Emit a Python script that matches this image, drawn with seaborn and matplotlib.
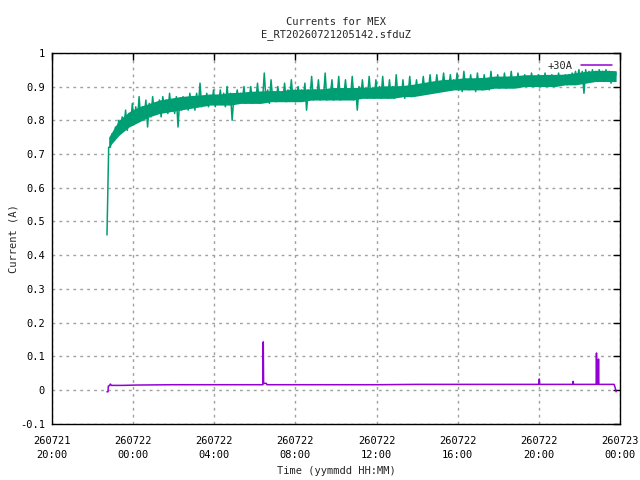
import matplotlib
matplotlib.use("Agg")
import matplotlib.pyplot as plt
import matplotlib.dates as mdates
import pandas as pd
import seaborn as sns

# green trace: low / high excursions of the noisy signal, one pair every 10 min
green_start = "2026-07-21 22:43"
green_lo = [
    0.46, 0.72, 0.74, 0.76, 0.77, 0.78, 0.77, 0.79, 0.79, 0.80,
    0.80, 0.81, 0.78, 0.81, 0.82, 0.82, 0.81, 0.83, 0.82, 0.83,
    0.82, 0.78, 0.83, 0.84, 0.83, 0.84, 0.83, 0.84, 0.84, 0.85,
    0.84, 0.85, 0.84, 0.85, 0.85, 0.84, 0.85, 0.80, 0.85, 0.85,
    0.86, 0.85, 0.86, 0.85, 0.86, 0.85, 0.86, 0.86, 0.85, 0.86,
    0.855, 0.86, 0.86, 0.855, 0.86, 0.86, 0.86, 0.865, 0.86, 0.83,
    0.865, 0.86, 0.865, 0.86, 0.865, 0.86, 0.865, 0.86, 0.865, 0.86,
    0.87, 0.865, 0.87, 0.86, 0.83, 0.865, 0.87, 0.865, 0.87, 0.865,
    0.87, 0.865, 0.87, 0.865, 0.87, 0.865, 0.87, 0.87, 0.865, 0.875,
    0.87, 0.875, 0.875, 0.88, 0.88, 0.885, 0.885, 0.89, 0.89, 0.895,
    0.895, 0.895, 0.89, 0.895, 0.89, 0.885, 0.895, 0.89, 0.895, 0.885,
    0.895, 0.89, 0.895, 0.89, 0.895, 0.90, 0.895, 0.90, 0.895, 0.90,
    0.90, 0.905, 0.90, 0.905, 0.905, 0.905, 0.905, 0.905, 0.905, 0.905,
    0.905, 0.91, 0.905, 0.91, 0.905, 0.91, 0.905, 0.91, 0.915, 0.92,
    0.915, 0.88, 0.92, 0.915, 0.92, 0.915, 0.92, 0.915, 0.92, 0.91,
    0.915,
]
green_hi = [
    0.72, 0.76, 0.78, 0.80, 0.81, 0.83, 0.82, 0.85, 0.84, 0.87,
    0.84, 0.86, 0.85, 0.87, 0.85, 0.86, 0.87, 0.86, 0.88, 0.86,
    0.87, 0.86, 0.87, 0.86, 0.88, 0.87, 0.88, 0.91, 0.87, 0.88,
    0.87, 0.89, 0.87, 0.89, 0.88, 0.90, 0.88, 0.87, 0.89, 0.88,
    0.90, 0.88, 0.90, 0.88, 0.91, 0.88, 0.94, 0.89, 0.92, 0.88,
    0.90, 0.88, 0.91, 0.89, 0.92, 0.88, 0.90, 0.89, 0.91, 0.89,
    0.93, 0.89, 0.92, 0.89, 0.94, 0.89, 0.92, 0.89, 0.93, 0.89,
    0.92, 0.89, 0.93, 0.89, 0.90, 0.92, 0.89, 0.93, 0.895, 0.92,
    0.90, 0.93, 0.895, 0.92, 0.90, 0.935, 0.895, 0.92, 0.90, 0.93,
    0.90, 0.92, 0.905, 0.93, 0.905, 0.935, 0.91, 0.935, 0.915, 0.94,
    0.915, 0.935, 0.92, 0.94, 0.92, 0.945, 0.92, 0.935, 0.92, 0.94,
    0.92, 0.935, 0.92, 0.945, 0.92, 0.935, 0.925, 0.94, 0.925, 0.945,
    0.925, 0.94, 0.925, 0.935, 0.93, 0.94, 0.93, 0.935, 0.93, 0.94,
    0.93, 0.935, 0.93, 0.94, 0.93, 0.935, 0.935, 0.94, 0.945, 0.95,
    0.945, 0.95, 0.945, 0.95, 0.945, 0.95, 0.945, 0.95, 0.945, 0.94,
    0.94,
]

# solid core of the green band, every 30 min
core_start = "2026-07-21 22:48"
core_lo = [
    0.72, 0.755, 0.78, 0.795, 0.81, 0.82, 0.825, 0.83, 0.835, 0.84,
    0.845, 0.845, 0.845, 0.85, 0.85, 0.85, 0.855, 0.855, 0.855, 0.855,
    0.86, 0.86, 0.86, 0.86, 0.86, 0.865, 0.865, 0.865, 0.865, 0.87,
    0.87, 0.875, 0.88, 0.885, 0.89, 0.89, 0.89, 0.89, 0.895, 0.895,
    0.895, 0.90, 0.90, 0.90, 0.90, 0.905, 0.905, 0.91, 0.915, 0.915,
    0.915,
]
core_hi = [
    0.75, 0.80, 0.825, 0.84, 0.85, 0.86, 0.865, 0.87, 0.873, 0.875,
    0.878, 0.878, 0.882, 0.883, 0.886, 0.887, 0.888, 0.888, 0.892, 0.892,
    0.893, 0.893, 0.897, 0.897, 0.897, 0.898, 0.898, 0.902, 0.902, 0.903,
    0.907, 0.912, 0.917, 0.921, 0.922, 0.926, 0.926, 0.927, 0.931, 0.931,
    0.932, 0.935, 0.935, 0.936, 0.936, 0.937, 0.941, 0.945, 0.948, 0.948,
    0.947,
]

# purple trace (+30A)
purple_times = [
    "07-21 22:43", "07-21 22:46", "07-21 22:47", "07-21 22:50", "07-21 22:53",
    "07-21 22:56", "07-21 23:30", "07-22 00:10", "07-22 02:00", "07-22 04:00",
    "07-22 06:24", "07-22 06:25", "07-22 06:26", "07-22 06:34", "07-22 06:36",
    "07-22 12:00", "07-22 14:00", "07-22 20:00", "07-22 20:01", "07-22 20:02",
    "07-22 21:40", "07-22 21:41", "07-22 21:42", "07-22 22:49", "07-22 22:50",
    "07-22 22:51", "07-22 22:55", "07-22 22:56", "07-22 22:57", "07-22 23:42",
    "07-22 23:45", "07-22 23:48",
]
purple_vals = [
    -0.005, -0.005, 0.012, 0.013, 0.018,
    0.014, 0.014, 0.015, 0.016, 0.016,
    0.016, 0.143, 0.020, 0.020, 0.016,
    0.016, 0.017, 0.017, 0.033, 0.017,
    0.017, 0.026, 0.017, 0.017, 0.110,
    0.017, 0.017, 0.092, 0.017, 0.017,
    0.008, -0.005,
]

xtick_times = pd.date_range("2026-07-21 20:00", "2026-07-23 00:00", freq="4h")
ytick_vals = [-0.1, 0, 0.1, 0.2, 0.3, 0.4, 0.5, 0.6, 0.7, 0.8, 0.9, 1]

GREEN = "#009e73"
PURPLE = "#9400d3"

# alternate between the excursions, every 5 min
t0 = pd.Timestamp(green_start)
gx, gy = [], []
for i, (lo, hi) in enumerate(zip(green_lo, green_hi)):
    t = t0 + pd.Timedelta(minutes=10 * i)
    gx += [t, t + pd.Timedelta(minutes=5)]
    gy += [lo, hi]
green = pd.DataFrame({"time": gx, "current": gy})
core_t = pd.date_range(core_start, periods=len(core_lo), freq="30min")
purple = pd.DataFrame({
    "time": pd.to_datetime(["2026-" + s for s in purple_times]),
    "current": purple_vals,
})

sns.set_style("white")
plt.rcParams["font.family"] = ["DejaVu Sans Mono"]
plt.rcParams["font.size"] = 7.5

fig = plt.figure(figsize=(6.4, 4.8), dpi=100)
ax = fig.add_axes([0.081, 0.117, 0.888, 0.773])

sns.lineplot(data=purple, x="time", y="current", color=PURPLE, lw=1.1,
             estimator=None, sort=False, label="+30A", ax=ax)
ax.fill_between(core_t, core_lo, core_hi, color=GREEN, lw=0)
sns.lineplot(data=green, x="time", y="current", color=GREEN, lw=1.1,
             estimator=None, sort=False, legend=False, ax=ax)

ax.set_xlim(xtick_times[0], xtick_times[-1])
ax.set_ylim(-0.1, 1.0)
ax.set_xticks(xtick_times)
ax.xaxis.set_major_formatter(mdates.DateFormatter("%y%m%d\n%H:%M"))
ax.set_yticks(ytick_vals)
ax.set_yticklabels([f"{v:g}" for v in ytick_vals])
ax.tick_params(direction="in", length=5, width=1, top=True, right=True,
               labelsize=7.5, colors="black", pad=5)
ax.tick_params(axis="x", pad=9)
for lbl in ax.get_xticklabels():
    lbl.set_linespacing(1.5)
for s in ax.spines.values():
    s.set_color("black")
    s.set_linewidth(1)
ax.grid(True, color="#a0a0a0", linestyle=(0, (2, 3)), linewidth=1)

ax.set_title("Currents for MEX\nE_RT20260721205142.sfduZ", fontsize=7.5, pad=11,
             linespacing=1.3)
ax.set_xlabel("Time (yymmdd HH:MM)", fontsize=7.5)
ax.xaxis.set_label_coords(0.5, -0.113)
ax.set_ylabel("Current (A)", fontsize=7.5, labelpad=1)

ax.legend(loc="upper right", frameon=False, markerfirst=False, fontsize=7.5,
          handlelength=3, borderaxespad=0.4)

fig.savefig("out.png", dpi=100)
